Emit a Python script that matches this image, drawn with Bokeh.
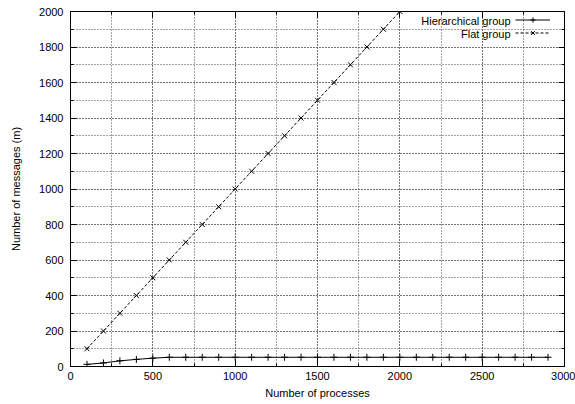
from bokeh.plotting import figure
from bokeh.models import (SingleIntervalTicker, LinearAxis, Range1d, Legend,
                          LegendItem, Label)
from bokeh.embed import file_html
from bokeh.resources import INLINE

# data
hier_x = [100, 200, 300, 400, 500, 600, 700, 800, 900, 1000, 1100, 1200, 1300,
          1400, 1500, 1600, 1700, 1800, 1900, 2000, 2100, 2200, 2300, 2400,
          2500, 2600, 2700, 2800, 2900]
hier_y = [12, 20, 32, 40, 47, 52, 52, 52, 52, 52, 52, 52, 52, 52, 52, 52, 52,
          52, 52, 52, 52, 52, 52, 52, 52, 52, 52, 52, 52]
flat_x = [100, 200, 300, 400, 500, 600, 700, 800, 900, 1000, 1100, 1200, 1300,
          1400, 1500, 1600, 1700, 1800, 1900, 2000]
flat_y = [100, 200, 300, 400, 500, 600, 700, 800, 900, 1000, 1100, 1200, 1300,
          1400, 1500, 1600, 1700, 1800, 1900, 2000]
series_names = ["Hierarchical group", "Flat group"]
x_label = "Number of processes"
y_label = "Number of messages (m)"

FONT = "Liberation Sans"
FS = "11px"

p = figure(width=575, height=404, output_backend="svg", toolbar_location=None,
           x_range=Range1d(0, 3000), y_range=Range1d(0, 2000),
           min_border_left=70, min_border_right=11, min_border_top=11,
           min_border_bottom=38)
p.outline_line_color = "black"
p.background_fill_color = "white"
p.border_fill_color = "white"

xt = SingleIntervalTicker(interval=500, num_minor_ticks=2)
yt = SingleIntervalTicker(interval=200, num_minor_ticks=2)

for ax, tk in ((p.xaxis[0], xt), (p.yaxis[0], yt)):
    ax.ticker = tk
    ax.major_tick_in = 6
    ax.major_tick_out = 0
    ax.minor_tick_in = 3
    ax.minor_tick_out = 0
    ax.axis_line_color = "black"
    ax.major_tick_line_color = "black"
    ax.minor_tick_line_color = "black"
    ax.major_label_text_font = FONT
    ax.major_label_text_font_size = FS
    ax.major_label_text_color = "black"
    ax.axis_label_text_font = FONT
    ax.axis_label_text_font_size = FS
    ax.axis_label_text_font_style = "normal"
    ax.axis_label_text_color = "black"

p.xaxis[0].axis_label = x_label
p.yaxis[0].axis_label = y_label
p.xaxis[0].major_label_standoff = 5
p.xaxis[0].axis_label_standoff = 4
p.yaxis[0].major_label_standoff = 7
p.yaxis[0].axis_label_standoff = 14

for loc, tk in (("right", yt), ("above", xt)):
    ax = LinearAxis(ticker=tk, major_tick_in=6, major_tick_out=0,
                    minor_tick_in=3, minor_tick_out=0,
                    major_label_text_font_size="0px",
                    major_label_text_color=None, major_label_standoff=0,
                    axis_line_color="black")
    p.add_layout(ax, loc)

for g in (p.xgrid[0], p.ygrid[0]):
    g.grid_line_color = "#444444"
    g.grid_line_dash = "1 2"
    g.grid_line_width = 1
    g.minor_grid_line_color = "#444444"
    g.minor_grid_line_dash = "1 2"
    g.minor_grid_line_width = 1
p.xgrid[0].ticker = xt
p.ygrid[0].ticker = yt

r1 = p.line(hier_x, hier_y, line_color="black", line_width=1)
m1 = p.scatter(hier_x, hier_y, marker="cross", size=7, line_color="black",
               line_width=1)
r2 = p.line(flat_x, flat_y, line_color="black", line_width=1, line_dash="3 2")
m2 = p.scatter(flat_x, flat_y, marker="x", size=7, line_color="black",
               line_width=1)

legend = Legend(items=[LegendItem(label=" ", renderers=[r1, m1]),
                       LegendItem(label=" ", renderers=[r2, m2])],
                location=(445, 327), orientation="vertical",
                glyph_width=35, glyph_height=13, label_height=13,
                label_width=0, label_standoff=0, spacing=0, padding=0,
                margin=0, border_line_color=None, background_fill_alpha=0,
                label_text_font_size="1px")
p.add_layout(legend, "center")

for i, name in enumerate(series_names):
    p.add_layout(Label(x=440, y=346 - 13 * i, x_units="screen",
                       y_units="screen", text=name, text_align="right",
                       text_baseline="middle", text_font=FONT,
                       text_font_size=FS, text_color="black"))

open("out.html", "w").write(file_html(p, INLINE))
